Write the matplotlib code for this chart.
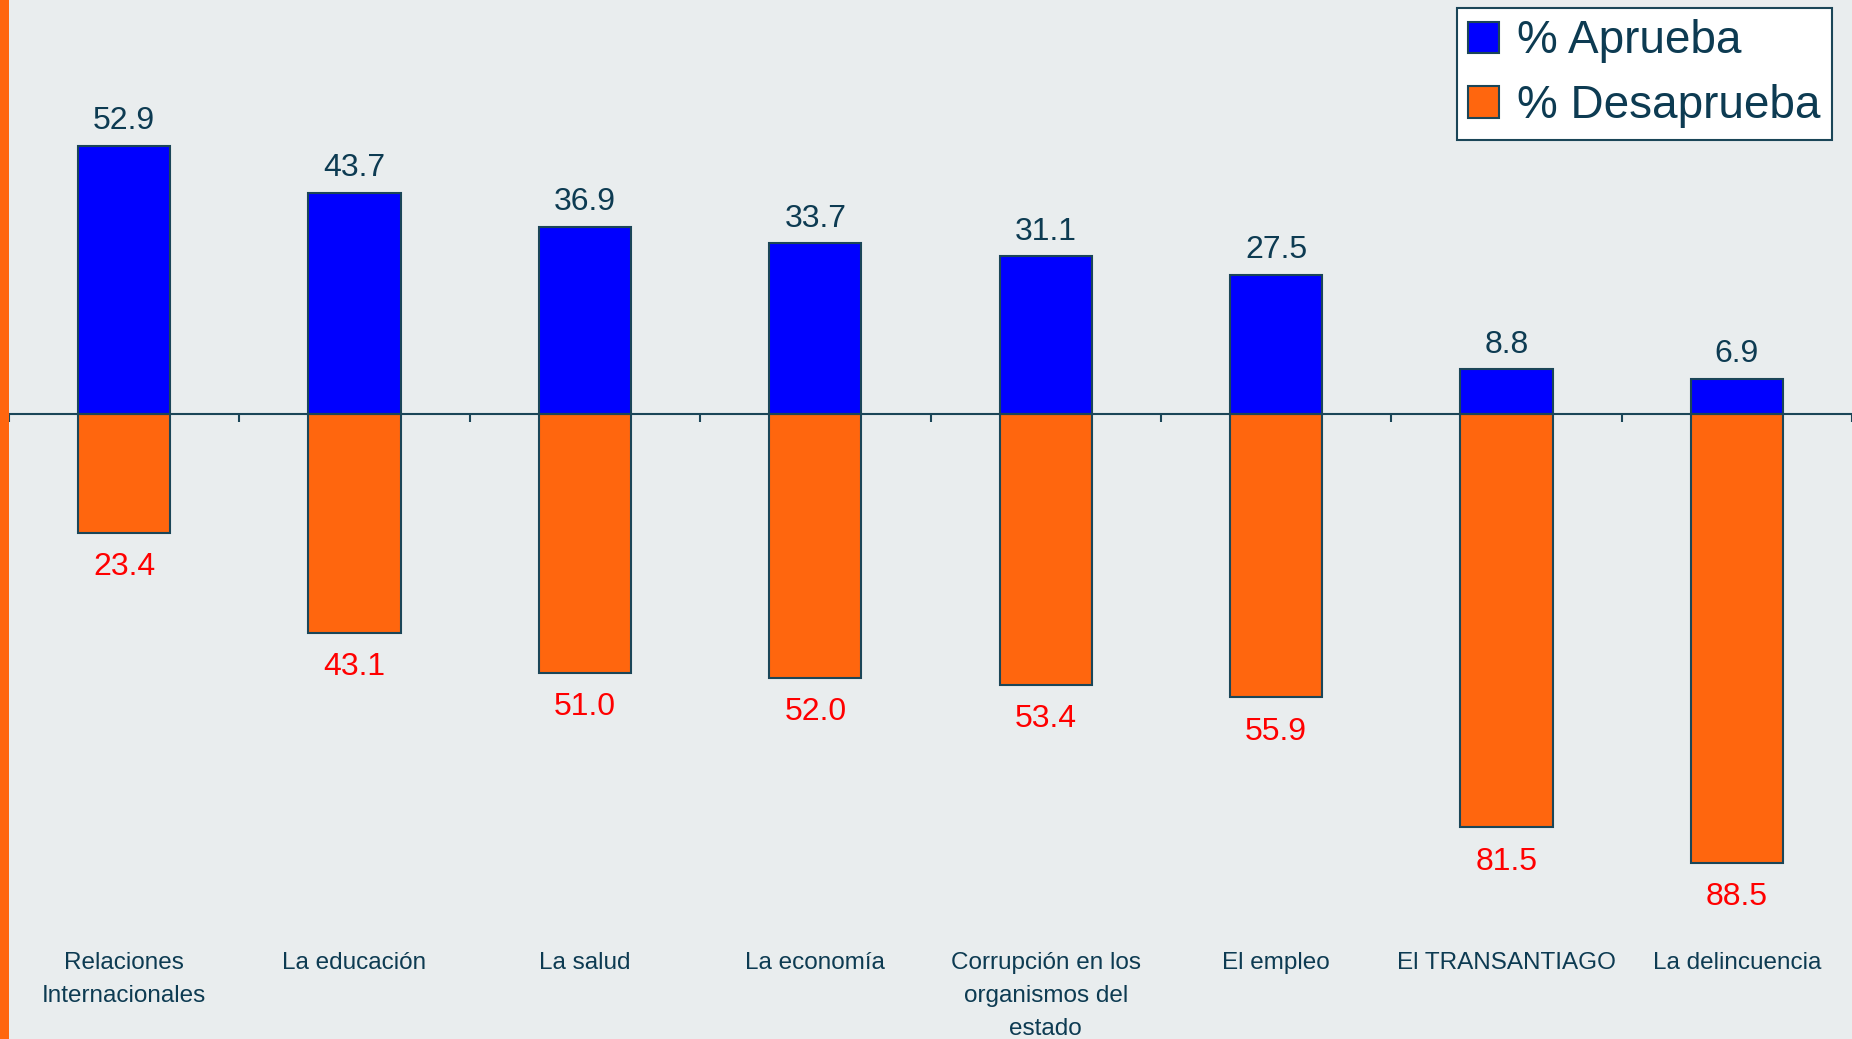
import matplotlib.pyplot as plt
import numpy as np
from matplotlib.patches import Rectangle

plt.rcParams['font.family'] = ['Liberation Sans', 'DejaVu Sans']

categorias = ["Relaciones\nInternacionales", "La educación", "La salud", "La economía",
              "Corrupción en los\norganismos del\nestado", "El empleo", "El TRANSANTIAGO",
              "La delincuencia"]
aprueba = [52.9, 43.7, 36.9, 33.7, 31.1, 27.5, 8.8, 6.9]
desaprueba = [23.4, 43.1, 51.0, 52.0, 53.4, 55.9, 81.5, 88.5]

fondo = "#e9edee"
texto = "#0d3b52"
borde = "#1b4658"
azul = "#0000ff"
naranja = "#ff660e"

fig = plt.figure(figsize=(18.52, 10.39), dpi=100, facecolor=fondo)
fig.patches.append(Rectangle((0, 0), 9 / 1852, 1, transform=fig.transFigure,
                             facecolor=naranja, edgecolor="none"))
ax = fig.add_axes([9 / 1852, 0, 1 - 9 / 1852, 1])
ax.set_facecolor(fondo)

x = np.arange(len(categorias))
b1 = ax.bar(x, aprueba, width=0.4, color=azul, edgecolor=borde, linewidth=1.5, label="% Aprueba")
b2 = ax.bar(x, [-d for d in desaprueba], width=0.4, color=naranja, edgecolor=borde,
            linewidth=1.5, label="% Desaprueba")

for i, v in enumerate(aprueba):
    ax.annotate(f"{v:.1f}", (x[i], v), xytext=(0, 7), textcoords="offset points",
                ha="center", va="bottom", fontsize=23, color=texto)
for i, v in enumerate(desaprueba):
    ax.annotate(f"{v:.1f}", (x[i], -v), xytext=(0, -14), textcoords="offset points",
                ha="center", va="top", fontsize=23, color="#ff0000")

for i, c in enumerate(categorias):
    ax.text(x[i], -106.2, c, ha="center", va="top", fontsize=17.5, color=texto,
            linespacing=1.65)

ax.set_xlim(-0.5, len(categorias) - 0.5)
ax.set_ylim(-123.3, 81.7)
for s in ["left", "right", "top"]:
    ax.spines[s].set_visible(False)
ax.spines["bottom"].set_position(("data", 0))
ax.spines["bottom"].set_color(borde)
ax.spines["bottom"].set_linewidth(1.5)
ax.set_yticks([])
ax.set_xticks(np.arange(-0.5, len(categorias), 1))
ax.set_xticklabels([])
ax.tick_params(axis="x", direction="out", length=6, width=1.5, color=borde)

leg = ax.legend(loc="upper right", bbox_to_anchor=(1832 / 1852, 1 - 8 / 1039),
                bbox_transform=fig.transFigure, fontsize=33, frameon=True, fancybox=False,
                framealpha=1, edgecolor=borde, handlelength=0.67, handleheight=0.67,
                handletextpad=0.4, borderpad=0.25, labelspacing=0.45, borderaxespad=0)
leg.get_frame().set_linewidth(1.5)
for t in leg.get_texts():
    t.set_color(texto)

fig.savefig("out.png", dpi=100, facecolor=fondo)
